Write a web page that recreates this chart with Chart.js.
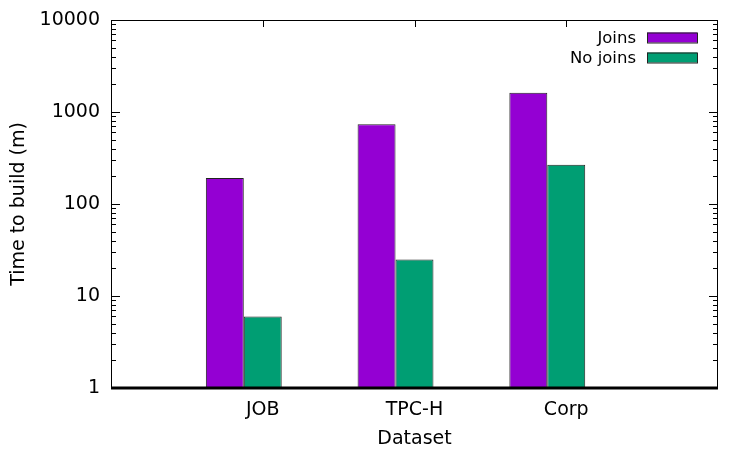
<!DOCTYPE html>
<html>
<head>
<meta charset="utf-8">
<script src="https://cdn.jsdelivr.net/npm/chart.js@4/dist/chart.umd.min.js"></script>
<style>
  html, body { margin: 0; padding: 0; background: #ffffff; }
  #wrap { width: 750px; height: 450px; }
</style>
</head>
<body>
<div id="wrap"><canvas id="c" width="750" height="450"></canvas></div>
<script>
// ---- data ----
const categories = ['JOB', 'TPC-H', 'Corp'];
const seriesNames = ['Joins', 'No joins'];
const joins = [192, 735, 1620];
const noJoins = [6, 25, 267];
const yTickValues = [1, 10, 100, 1000, 10000];

// ---- style ----
const FONT = '"DejaVu Sans", sans-serif';
const COLORS = ['#9400d3', '#009e73'];
const LABEL_SHIFT = 0.125; // gnuplot-style label offset from bar-pair centre

const toPoints = arr => arr.map((v, i) => ({ x: i, y: v }));

const framePlugin = {
  id: 'frame',
  afterDatasetsDraw(chart) {
    const ctx = chart.ctx;
    const a = chart.chartArea;
    const y = chart.scales.y;
    const x = chart.scales.x;
    ctx.save();
    ctx.strokeStyle = '#000';
    ctx.lineWidth = 1;
    ctx.strokeRect(a.left + 0.5, a.top + 0.5, a.right - a.left - 1, a.bottom - a.top);
    ctx.beginPath();
    for (let k = 0; k < yTickValues.length; k++) {
      const base = yTickValues[k];
      const py = Math.round(y.getPixelForValue(base)) + 0.5;
      ctx.moveTo(a.left, py); ctx.lineTo(a.left + 9, py);
      ctx.moveTo(a.right, py); ctx.lineTo(a.right - 9, py);
      if (k < yTickValues.length - 1) {
        for (let m = 2; m <= 9; m++) {
          const pm = Math.round(y.getPixelForValue(base * m)) + 0.5;
          ctx.moveTo(a.left, pm); ctx.lineTo(a.left + 5, pm);
          ctx.moveTo(a.right, pm); ctx.lineTo(a.right - 5, pm);
        }
      }
    }
    categories.forEach((c, i) => {
      const px = Math.round(x.getPixelForValue(i + LABEL_SHIFT)) + 0.5;
      ctx.moveTo(px, a.top); ctx.lineTo(px, a.top + 7);
    });
    ctx.stroke();
    ctx.lineWidth = 3;
    ctx.beginPath();
    ctx.moveTo(a.left, a.bottom);
    ctx.lineTo(a.right, a.bottom);
    ctx.stroke();
    ctx.font = '16.5px ' + FONT;
    ctx.textAlign = 'right';
    ctx.textBaseline = 'middle';
    chart.data.datasets.forEach((ds, i) => {
      const cy = 37.5 + i * 20;
      ctx.fillStyle = '#000';
      ctx.fillText(ds.label, 636, cy + 1);
      ctx.fillStyle = ds.backgroundColor;
      ctx.fillRect(647, cy - 5, 50, 10);
      ctx.lineWidth = 1;
      ctx.strokeStyle = '#222';
      ctx.strokeRect(647.5, cy - 4.5, 50, 10);
    });
    ctx.restore();
  }
};

new Chart(document.getElementById('c'), {
  type: 'bar',
  data: {
    datasets: [
      { label: seriesNames[0], data: toPoints(joins), backgroundColor: COLORS[0], borderColor: '#222', borderWidth: 1 },
      { label: seriesNames[1], data: toPoints(noJoins), backgroundColor: COLORS[1], borderColor: '#222', borderWidth: 1 }
    ]
  },
  options: {
    responsive: false,
    animation: false,
    devicePixelRatio: 1,
    categoryPercentage: 0.5,
    barPercentage: 1.0,
    layout: { padding: { top: 20, right: 32, left: 0, bottom: 0 } },
    plugins: { legend: { display: false }, tooltip: { enabled: false } },
    scales: {
      x: {
        type: 'linear',
        offset: false,
        min: -0.875,
        max: 3.125,
        grid: { display: false, drawTicks: false, offset: false },
        border: { display: false },
        afterBuildTicks(s) { s.ticks = categories.map((c, i) => ({ value: i + LABEL_SHIFT })); },
        afterFit(s) { s.height = 62; s.paddingLeft = 0; s.paddingRight = 0; },
        ticks: {
          autoSkip: false,
          maxRotation: 0,
          padding: 11,
          color: '#000',
          font: { family: FONT, size: 19 },
          callback(v) { return categories[Math.round(v - LABEL_SHIFT)]; }
        },
        title: { display: true, text: 'Dataset', color: '#000', font: { family: FONT, size: 19 }, padding: { top: 2, bottom: 0 } }
      },
      y: {
        type: 'logarithmic',
        min: 1,
        max: 10000,
        grid: { display: false, drawTicks: false },
        border: { display: false },
        afterBuildTicks(s) { s.ticks = yTickValues.map(v => ({ value: v })); },
        afterFit(s) { s.width = 111; s.paddingTop = 0; s.paddingBottom = 0; },
        ticks: {
          padding: 11,
          color: '#000',
          font: { family: FONT, size: 19 },
          callback(v) { return String(v); }
        },
        title: { display: true, text: 'Time to build (m)', color: '#000', font: { family: FONT, size: 19 }, padding: { top: 8, bottom: 0 } }
      }
    }
  },
  plugins: [framePlugin]
});
</script>
</body>
</html>
